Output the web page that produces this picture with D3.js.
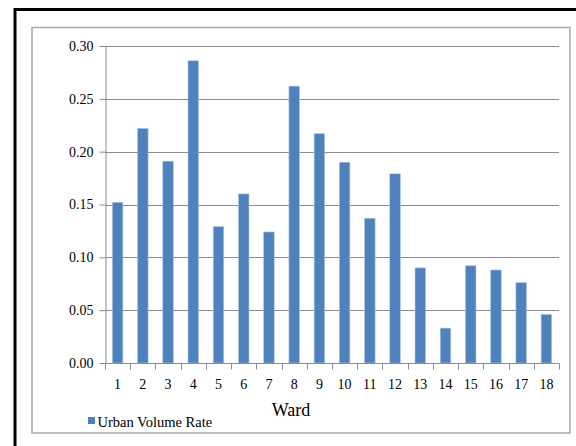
<!DOCTYPE html>
<html>
<head>
<meta charset="utf-8">
<script src="https://cdn.jsdelivr.net/npm/d3@7"></script>
<style>
  html, body { margin: 0; padding: 0; background: #fff; }
  svg { display: block; }
</style>
</head>
<body>
<svg id="chart" width="576" height="446"></svg>
<script>
// Urban volume rate by ward
const wards = ["1","2","3","4","5","6","7","8","9","10","11","12","13","14","15","16","17","18"];
const urbanVolumeRate = [0.152,0.222,0.191,0.286,0.129,0.160,0.124,0.262,0.217,0.190,0.137,0.179,0.090,0.033,0.092,0.088,0.076,0.046];
const yTicks = [0, 0.05, 0.10, 0.15, 0.20, 0.25, 0.30];
const seriesName = "Urban Volume Rate";
const xTitle = "Ward";

const svg = d3.select("#chart");
const font = "Liberation Serif";
const gridColor = "#8c8c8c";
const barColor = "#4f81bd";

// outer frame (top and left edges visible)
svg.append("rect")
  .attr("x", 15).attr("y", 9.5).attr("width", 620).attr("height", 500)
  .attr("fill", "#fff").attr("stroke", "#000").attr("stroke-width", 3);

// chart area border
svg.append("rect")
  .attr("x", 32).attr("y", 27.5).attr("width", 538).attr("height", 405.5)
  .attr("fill", "#fff").attr("stroke", "#a8a8a8").attr("stroke-width", 1.5);

const plot = { left: 105, right: 559, top: 46, bottom: 363 };

const xCat = d3.scaleBand().domain(wards).range([plot.left, plot.right]);
const y = d3.scaleLinear().domain([0, 0.30]).range([plot.bottom, plot.top]);

// gridlines
svg.append("g").selectAll("line").data(yTicks.filter(d => d > 0)).join("line")
  .attr("x1", plot.left).attr("x2", plot.right)
  .attr("y1", d => Math.round(y(d)) + 0.5).attr("y2", d => Math.round(y(d)) + 0.5)
  .attr("stroke", gridColor).attr("stroke-width", 1);

// bars
svg.append("g").selectAll("rect").data(wards).join("rect")
  .attr("x", (d) => xCat(d) + xCat.bandwidth() / 2 - 5.25)
  .attr("width", 10.5)
  .attr("y", (d, i) => y(urbanVolumeRate[i]))
  .attr("height", (d, i) => plot.bottom - y(urbanVolumeRate[i]))
  .attr("fill", barColor)
  .attr("stroke", "#a9c3e3").attr("stroke-width", 0.6);

// y axis
const yAxis = d3.axisLeft(y).tickValues(yTicks).tickFormat(d3.format(".2f")).tickSizeOuter(0).tickSize(6).tickPadding(6);
const gy = svg.append("g").attr("transform", `translate(${plot.left + 0.5},0)`).call(yAxis);
gy.attr("font-family", font).attr("font-size", 14);
gy.select(".domain").attr("stroke", gridColor);
gy.selectAll(".tick line").attr("stroke", gridColor);
gy.selectAll(".tick text").style("font-family", font).attr("font-size", 14).attr("fill", "#000");

// x axis: tick marks between categories
const gx = svg.append("g").attr("transform", `translate(0,${plot.bottom + 0.5})`);
gx.append("line").attr("x1", plot.left).attr("x2", plot.right).attr("stroke", gridColor);
const boundaries = wards.map(d => xCat(d)).concat([plot.right]);
gx.selectAll("line.tk").data(boundaries).join("line").attr("class", "tk")
  .attr("x1", d => Math.round(d) + 0.5).attr("x2", d => Math.round(d) + 0.5)
  .attr("y1", 0).attr("y2", 6).attr("stroke", gridColor);
gx.selectAll("text").data(wards).join("text")
  .attr("x", d => xCat(d) + xCat.bandwidth() / 2)
  .attr("y", 25)
  .attr("text-anchor", "middle")
  .style("font-family", font).attr("font-size", 14).attr("fill", "#000")
  .text(d => d);

// x title
svg.append("text")
  .attr("x", 291).attr("y", 415.5)
  .attr("text-anchor", "middle")
  .style("font-family", font).attr("font-size", 18).attr("fill", "#000")
  .text(xTitle);

// legend
svg.append("rect").attr("x", 88).attr("y", 417).attr("width", 7).attr("height", 7).attr("fill", barColor);
svg.append("text")
  .attr("x", 97.5).attr("y", 426.5)
  .style("font-family", font).attr("font-size", 14.5).attr("fill", "#000")
  .text(seriesName);
</script>
</body>
</html>
